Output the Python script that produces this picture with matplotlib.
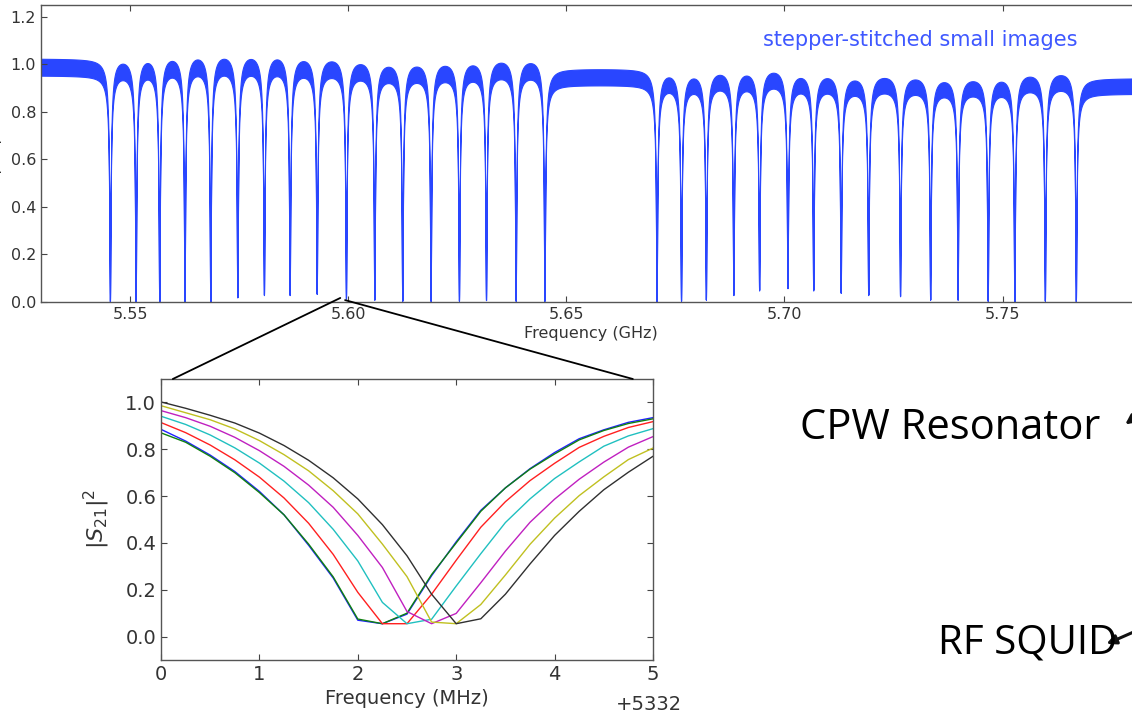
import matplotlib.pyplot as plt
import numpy as np
from matplotlib.patches import ConnectionPatch, FancyArrowPatch

blue = '#2946ff'

# --- wide sweep: resonance dips of the stepper-stitched chip (GHz)
dip_freqs = [5.5454, 5.5513, 5.5567, 5.5625, 5.5684, 5.5746, 5.5807, 5.5866,
             5.5928, 5.5995, 5.6060, 5.6124, 5.6189, 5.6254, 5.6316, 5.6384,
             5.6450,
             5.6707, 5.6763, 5.6820, 5.6883, 5.6942, 5.7007, 5.7066, 5.7129,
             5.7192, 5.7265, 5.7334, 5.7397, 5.7466, 5.7527, 5.7597, 5.7668]
# lowest |S21|^2 reached in each dip
dip_floor = [0.0, 0.0, 0.0, 0.0, 0.0, 0.02, 0.03, 0.03, 0.035, 0.015, 0.01, 0.005,
             0.005, 0.005, 0.008, 0.005, 0.005,
             0.0, 0.005, 0.01, 0.03, 0.05, 0.06, 0.05, 0.04, 0.03, 0.025,
             0.01, 0.01, 0.005, 0.0, 0.005, 0.0]
# transmission level (middle of the band) of each stretch between dips
seg_level = [0.99, 0.98, 0.99, 0.995, 1.0, 1.0, 1.0, 1.0, 0.99, 0.985, 0.975,
             0.965, 0.965, 0.968, 0.972, 0.978, 0.976, 0.95,
             0.927, 0.923, 0.933, 0.933, 0.94, 0.923, 0.919, 0.909, 0.913,
             0.909, 0.902, 0.902, 0.905, 0.919, 0.923, 0.91]

# --- zoom on one resonator, 7 sweeps (MHz above 5332)
inset_f = np.linspace(0, 5, 21)
curve_b = [0.885, 0.835, 0.775, 0.705, 0.62, 0.52, 0.39, 0.25, 0.07, 0.055, 0.096,
           0.26, 0.405, 0.539, 0.635, 0.717, 0.786, 0.845, 0.883, 0.915, 0.935]
curve_g = [0.87, 0.83, 0.77, 0.70, 0.615, 0.52, 0.395, 0.255, 0.075, 0.055, 0.10,
           0.265, 0.40, 0.535, 0.635, 0.715, 0.78, 0.84, 0.88, 0.91, 0.93]
curve_r = [0.914, 0.871, 0.818, 0.755, 0.681, 0.592, 0.484, 0.351, 0.189, 0.055, 0.055,
           0.181, 0.326, 0.467, 0.576, 0.666, 0.74, 0.808, 0.855, 0.893, 0.918]
curve_c = [0.941, 0.906, 0.861, 0.806, 0.741, 0.664, 0.572, 0.458, 0.323, 0.146, 0.055,
           0.074, 0.216, 0.354, 0.487, 0.588, 0.675, 0.746, 0.813, 0.857, 0.888]
curve_m = [0.965, 0.935, 0.898, 0.851, 0.794, 0.727, 0.647, 0.552, 0.432, 0.295, 0.107,
           0.055, 0.099, 0.23, 0.365, 0.488, 0.587, 0.672, 0.745, 0.809, 0.854]
curve_y = [0.986, 0.956, 0.926, 0.887, 0.837, 0.777, 0.708, 0.623, 0.524, 0.395, 0.256,
           0.062, 0.055, 0.137, 0.263, 0.394, 0.506, 0.602, 0.682, 0.756, 0.805]
curve_k = [1.002, 0.975, 0.945, 0.912, 0.869, 0.816, 0.753, 0.678, 0.588, 0.478, 0.345,
           0.181, 0.055, 0.076, 0.181, 0.31, 0.432, 0.535, 0.627, 0.702, 0.77]
curves = [curve_b, curve_g, curve_r, curve_c, curve_m, curve_y, curve_k]
curve_colors = ['#2020ff', '#108010', '#ff2020', '#20c0c0', '#c020c0', '#c0c020', '#303030']


def style_axes(ax, size):
    ax.tick_params(direction='in', length=4, top=True, right=True,
                   labelsize=size, labelcolor='#333333', color='#444444')
    for sp in ax.spines.values():
        sp.set_color('#555555')
        sp.set_linewidth(1.0)


W, H = 1132., 719.
fig = plt.figure(figsize=(W / 100, H / 100), dpi=100)

# ---------------- wide sweep
ax = fig.add_axes([41 / W, 1 - 302 / H, (1140 - 41) / W, 297 / H])
freq = np.linspace(5.528, 5.782, 60000)
seg = np.searchsorted(dip_freqs, freq)
# short stretches between two close dips sag from both sides, lift them back
edges = np.concatenate([[freq[0]], dip_freqs, [freq[-1]]])
narrow = np.diff(edges) < 0.01
level = np.array(seg_level) * np.where(narrow, 1.025, 1.0)
level = level[seg]
# each resonance: a broad sag, a narrower shoulder and the sharp notch
shoulders = [(0.04, 0.0015), (0.18, 0.0005)]
notch_w = 0.00016
trace = level.copy()
for f0 in dip_freqs:
    for depth, width in shoulders:
        trace *= 1 - depth / (1 + ((freq - f0) / width) ** 2)
for f0, lo in zip(dip_freqs, dip_floor):
    here = trace[np.argmin(abs(freq - f0))]
    depth = 1 - max(lo, 0.003) / here
    trace *= 1 - depth / (1 + ((freq - f0) / notch_w) ** 2)
half_band = 0.036
ax.fill_between(freq, trace * (1 - half_band), trace * (1 + half_band),
                color=blue, edgecolor=blue, linewidth=0.8)
ax.set_xlim(5.5296, 5.7815)
ax.set_ylim(0, 1.25)
ax.set_xticks([5.55, 5.60, 5.65, 5.70, 5.75])
ax.set_yticks([0.0, 0.2, 0.4, 0.6, 0.8, 1.0, 1.2])
style_axes(ax, 11.5)
ax.tick_params(right=False)
ax.set_xlabel('Frequency (GHz)', fontsize=11.5, color='#333333', labelpad=3)
ax.set_ylabel(r'$|S_{21}|^2$', fontsize=11.5, color='#333333')
ax.yaxis.set_label_coords(-0.0328, 0.5)
ax.text(0.80, 0.882, 'stepper-stitched small images', transform=ax.transAxes,
        ha='center', va='center', fontsize=15, color='#3f58ff')

# ---------------- inset
ins = fig.add_axes([161 / W, 1 - 660 / H, 492 / W, 281 / H])
for vals, col in zip(curves, curve_colors):
    ins.plot(inset_f, vals, color=col, lw=1.0)
ins.set_xlim(0, 5)
ins.set_ylim(-0.1, 1.1)
ins.set_yticks([0.0, 0.2, 0.4, 0.6, 0.8, 1.0])
style_axes(ins, 14)
ins.set_xlabel('Frequency (MHz)', fontsize=14, color='#333333')
ins.set_ylabel(r'$|S_{21}|^2$', fontsize=16, color='#333333')
ins.yaxis.set_label_coords(-0.10, 0.5)
ins.text(1.059, -0.16, '+5332', transform=ins.transAxes, ha='right', va='center',
         fontsize=14, color='#333333')

# zoom lines from the dip to the inset
for xa, ya, xb in [(5.5982, 0.017, 0.024), (5.5993, 0.008, 0.959)]:
    con = ConnectionPatch(xyA=(xa, ya), coordsA=ax.transData,
                          xyB=(xb, 1.0), coordsB=ins.transAxes,
                          color='black', lw=1.3)
    fig.add_artist(con)

# ---------------- device labels
fig.text(800 / W, 1 - 428 / H, 'CPW Resonator', fontsize=30, family='Open Sans',
         ha='left', va='center')
fig.text(938 / W, 1 - 643 / H, 'RF SQUID', fontsize=29, family='Open Sans',
         ha='left', va='center')
for (xa, ya), (xb, yb) in [((1145, 410), (1123, 426)), ((1145, 627), (1104, 645))]:
    arr = FancyArrowPatch((xa / W, 1 - ya / H), (xb / W, 1 - yb / H),
                          transform=fig.transFigure, arrowstyle='-|>',
                          mutation_scale=14, lw=2.2, color='#111111')
    fig.add_artist(arr)

fig.savefig('out.png', dpi=100)
plt.close()
